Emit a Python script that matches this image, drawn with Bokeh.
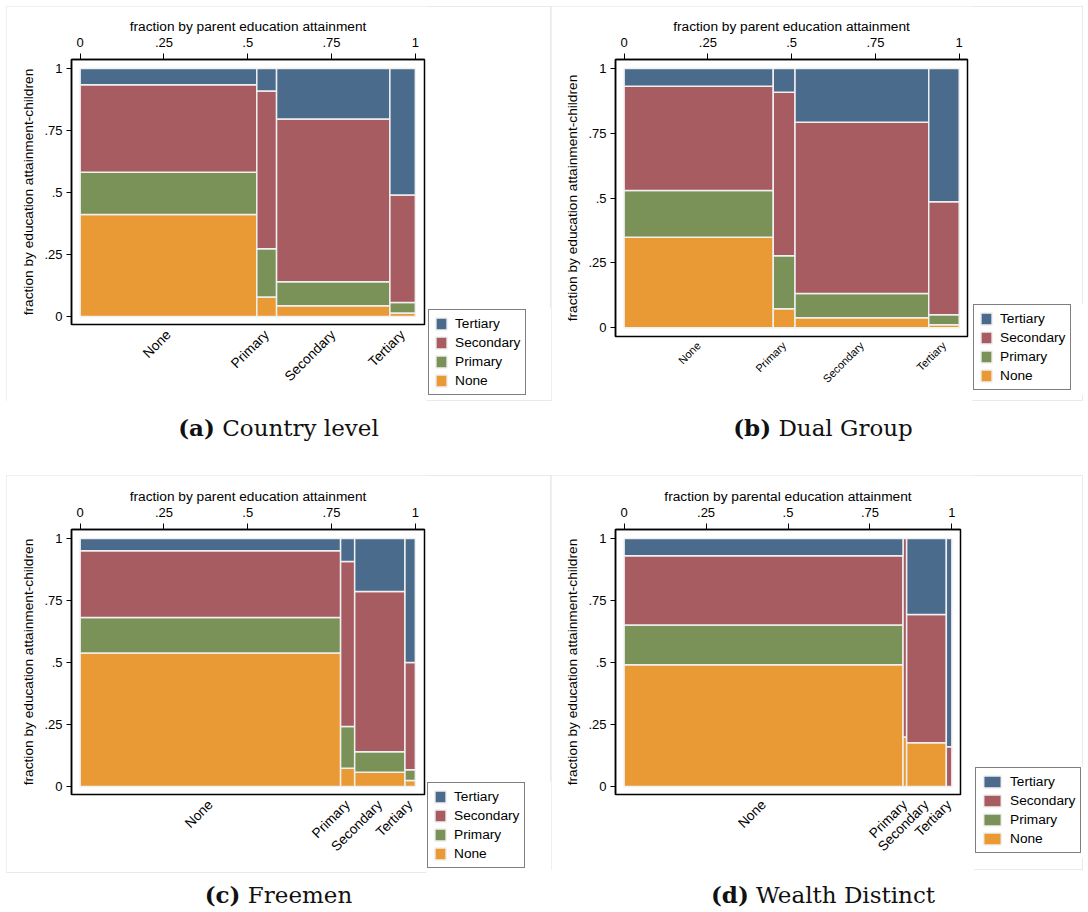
import math
from bokeh.plotting import figure
from bokeh.models import (ColumnDataSource, LinearAxis, FixedTicker, CustomJSTickFormatter,
                          Legend, LegendItem, Range1d, Div, Spacer)
from bokeh.layouts import column, row
from bokeh.embed import file_html
from bokeh.resources import INLINE

# ---------------- data ----------------
parent_levels = ["None", "Primary", "Secondary", "Tertiary"]
child_levels = ["None", "Primary", "Secondary", "Tertiary"]
y_ticks = [0, 0.25, 0.5, 0.75, 1]
y_title = "fraction by education attainment-children"

# (a) Country level
a_parent_share = [0.527, 0.059, 0.338, 0.076]
a_child_none = [0.411, 0.079, 0.043, 0.014]
a_child_primary = [0.171, 0.194, 0.097, 0.042]
a_child_secondary = [0.352, 0.636, 0.656, 0.434]
a_child_tertiary = [0.066, 0.091, 0.204, 0.510]

# (b) Dual Group
b_parent_share = [0.445, 0.065, 0.399, 0.091]
b_child_none = [0.349, 0.073, 0.039, 0.012]
b_child_primary = [0.180, 0.205, 0.093, 0.038]
b_child_secondary = [0.403, 0.630, 0.661, 0.436]
b_child_tertiary = [0.068, 0.092, 0.207, 0.514]

# (c) Freemen
c_parent_share = [0.777, 0.042, 0.150, 0.031]
c_child_none = [0.538, 0.074, 0.057, 0.024]
c_child_primary = [0.143, 0.168, 0.083, 0.043]
c_child_secondary = [0.270, 0.665, 0.646, 0.433]
c_child_tertiary = [0.049, 0.093, 0.214, 0.500]

# (d) Wealth Distinct
d_parent_share = [0.851, 0.011, 0.121, 0.017]
d_child_none = [0.491, 0.200, 0.176, 0.000]
d_child_primary = [0.160, 0.000, 0.000, 0.000]
d_child_secondary = [0.279, 0.800, 0.518, 0.160]
d_child_tertiary = [0.070, 0.000, 0.306, 0.840]

captions = [("a", "Country level"), ("b", "Dual Group"), ("c", "Freemen"), ("d", "Wealth Distinct")]
x_titles = ["fraction by parent education attainment", "fraction by parent education attainment",
            "fraction by parent education attainment", "fraction by parental education attainment"]

# ---------------- style ----------------
colors = {"None": "#e99a35", "Primary": "#7a9257", "Secondary": "#a65c61", "Tertiary": "#4a6b8c"}
FONT = "Liberation Sans"
EDGE = "#f0f0f0"


def tick_fmt():
    return CustomJSTickFormatter(code="""
        if (tick == 0) return "0";
        if (tick == 1) return "1";
        return String(tick).replace(/^0/, "");
    """)


def make_main(parent_share, child_lists, x_title, cfg):
    H = cfg["H"]
    mbl, mbt, fw, fh, mbr = cfg["mbl"], cfg["mbt"], cfg["fw"], cfg["fh"], cfg["mbr"]
    W = mbl + fw + mbr
    p = figure(width=W, height=H, output_backend="svg", toolbar_location=None,
               x_range=Range1d(*cfg["xr"]), y_range=Range1d(*cfg["yr"]),
               x_axis_location=None, y_axis_location=None,
               min_border_left=mbl, min_border_top=mbt,
               min_border_right=mbr, min_border_bottom=H - mbt - fh)
    p.grid.grid_line_color = None
    p.outline_line_color = "black"
    p.outline_line_width = 1.5
    p.background_fill_color = "white"
    p.border_fill_color = "white"

    edges = [0.0]
    for s in parent_share:
        edges.append(edges[-1] + s)

    base = [0.0] * len(parent_share)
    for lvl, shares in zip(child_levels, child_lists):
        L, R, B, T = [], [], [], []
        for j, s in enumerate(shares):
            if s > 0:
                L.append(edges[j]); R.append(edges[j + 1])
                B.append(base[j]); T.append(base[j] + s)
            base[j] += s
        src = ColumnDataSource(dict(left=L, right=R, bottom=B, top=T))
        p.quad(left="left", right="right", bottom="bottom", top="top", source=src,
               fill_color=colors[lvl], line_color=EDGE, line_width=1.5)

    top = LinearAxis(axis_label=x_title, ticker=FixedTicker(ticks=y_ticks), formatter=tick_fmt())
    left = LinearAxis(axis_label=y_title, ticker=FixedTicker(ticks=y_ticks), formatter=tick_fmt())
    for ax, tout, stand in ((top, 6, 7), (left, 5, 4)):
        ax.axis_line_color = "black"
        ax.axis_line_width = 1.5
        ax.major_tick_line_color = "black"
        ax.major_tick_in = 0
        ax.major_tick_out = tout
        ax.minor_tick_line_color = None
        ax.major_label_standoff = stand
        ax.major_label_text_font = FONT
        ax.major_label_text_font_size = "13px"
        ax.major_label_text_color = "black"
        ax.axis_label_text_font = FONT
        ax.axis_label_text_font_size = "13.7px"
        ax.axis_label_text_font_style = "normal"
        ax.axis_label_text_color = "black"
    top.axis_label_standoff = 1
    left.axis_label_standoff = 5
    p.add_layout(top, "above")
    p.add_layout(left, "left")

    mids = [(edges[j] + edges[j + 1]) / 2 for j in range(len(parent_share))]
    bottom = LinearAxis(ticker=FixedTicker(ticks=mids),
                        formatter=CustomJSTickFormatter(args=dict(names=parent_levels),
                                                        code="return names[index];"))
    bottom.axis_line_color = None
    bottom.major_tick_line_color = None
    bottom.minor_tick_line_color = None
    bottom.major_tick_out = 0
    bottom.major_tick_in = 0
    bottom.major_label_standoff = cfg["cat_standoff"]
    bottom.major_label_orientation = math.pi / 4
    bottom.major_label_text_font = FONT
    bottom.major_label_text_font_size = cfg["cat_font"]
    bottom.major_label_text_color = "black"
    p.add_layout(bottom, "below")
    return p


def make_legend_fig(cfg):
    q = figure(width=cfg["LW"], height=cfg["LH"], output_backend="svg", toolbar_location=None,
               x_range=Range1d(0, 1), y_range=Range1d(0, 1),
               x_axis_location=None, y_axis_location=None, min_border=0)
    q.grid.grid_line_color = None
    q.outline_line_color = None
    q.background_fill_color = "white"
    q.border_fill_color = "white"
    rends = {}
    for lvl in child_levels:
        # swatch renderers only (kept outside the visible range)
        rends[lvl] = q.quad(left=[5], right=[6], bottom=[5], top=[6],
                            fill_color=colors[lvl], line_color=EDGE, line_width=1.5)
    items = [LegendItem(label=lvl, renderers=[rends[lvl]]) for lvl in reversed(child_levels)]
    legend = Legend(items=items, location="top_left", margin=1, padding=5, spacing=2,
                    glyph_width=cfg["gw"], glyph_height=15, label_height=17, label_standoff=7,
                    label_text_font=FONT, label_text_font_size="13.7px", label_text_color="black",
                    border_line_color="black", border_line_width=1.5,
                    background_fill_color="white", background_fill_alpha=1.0)
    q.add_layout(legend, "center")
    return q


cfgs = [
    dict(H=395, mbl=65, mbt=53, fw=353, fh=265, mbr=3, LW=124, LH=92, S=302,
         xr=(-0.0258, 1.0273), yr=(-0.0323, 1.0363), gw=14, cat_font="13.7px", cat_standoff=8),
    dict(H=395, mbl=64, mbt=53, fw=352, fh=277, mbr=5, LW=111, LH=92, S=297,
         xr=(-0.0257, 1.0247), yr=(-0.0336, 1.0347), gw=14, cat_font="11px", cat_standoff=7),
    dict(H=395, mbl=65, mbt=54, fw=353, fh=265, mbr=2, LW=125, LH=92, S=306,
         xr=(-0.0258, 1.0273), yr=(-0.0323, 1.0363), gw=14, cat_font="13.7px", cat_standoff=8),
    dict(H=395, mbl=64, mbt=54, fw=345, fh=265, mbr=14, LW=109, LH=92, S=291,
         xr=(-0.0263, 1.0263), yr=(-0.0323, 1.0363), gw=22, cat_font="13.7px", cat_standoff=8),
]

panel_data = [
    (a_parent_share, [a_child_none, a_child_primary, a_child_secondary, a_child_tertiary]),
    (b_parent_share, [b_child_none, b_child_primary, b_child_secondary, b_child_tertiary]),
    (c_parent_share, [c_child_none, c_child_primary, c_child_secondary, c_child_tertiary]),
    (d_parent_share, [d_child_none, d_child_primary, d_child_secondary, d_child_tertiary]),
]

BOX = {"outline": "1px solid #e6ecec", "outline-offset": "-1px"}
panels = []
for (ps, cl), xt, cfg in zip(panel_data, x_titles, cfgs):
    main = make_main(ps, cl, xt, cfg)
    leg = make_legend_fig(cfg)
    side = column(Spacer(width=cfg["LW"], height=cfg["S"]), leg, margin=0)
    panels.append(row(main, side, styles=BOX))


def caption(letter, text, width, height, pad_top, pad_left):
    html = ('<div style="width:%dpx;text-align:center;padding-top:%dpx;padding-left:%dpx;box-sizing:border-box;'
            'font-family:\'DejaVu Serif\';font-size:23px;line-height:22px;color:#111;">'
            '<b>(%s)</b> %s</div>') % (width, pad_top, pad_left, letter, text)
    return Div(text=html, width=width, height=height, margin=0)


caps = [
    caption(captions[0][0], captions[0][1], 545, 74, 16, 0),
    caption(captions[1][0], captions[1][1], 532, 74, 16, 12),
    caption(captions[2][0], captions[2][1], 545, 40, 11, 0),
    caption(captions[3][0], captions[3][1], 532, 40, 11, 12),
]

layout = column(row(panels[0], panels[1]), row(caps[0], caps[1]),
                row(panels[2], panels[3]), row(caps[2], caps[3]),
                margin=(6, 0, 0, 6))

open("out.html", "w").write(file_html(layout, INLINE))
